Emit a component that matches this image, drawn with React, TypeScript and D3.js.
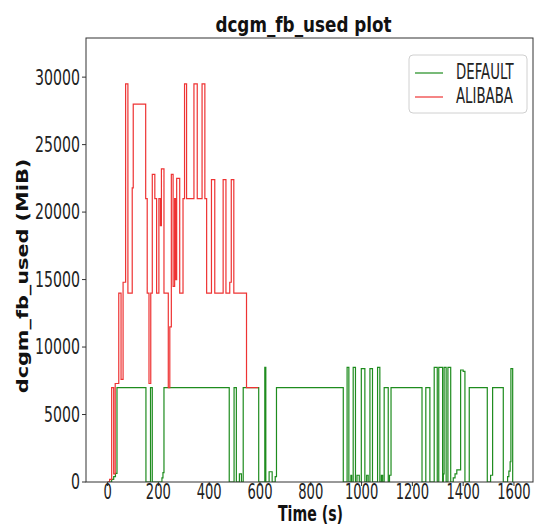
import React from "react";
import * as d3 from "d3";

// [time (s), dcgm_fb_used (MiB)], step-wise
const defaultSeries: [number, number][] = [
  [0, 0], [16, 200], [24, 400], [31, 640], [37, 7000], [151, 0], [169, 7000], [176, 0],
  [214, 300], [218, 700], [222, 7000], [479, 0], [498, 7000], [507, 0], [519, 600], [527, 0],
  [534, 7000], [595, 0], [619, 8500], [623, 0], [636, 760], [648, 0], [660, 400], [665, 7000],
  [928, 0], [943, 8500], [950, 0], [958, 500], [961, 0], [967, 8500], [976, 0], [982, 500],
  [991, 0], [999, 8400], [1013, 0], [1020, 500], [1026, 0], [1033, 8400], [1043, 0],
  [1063, 8500], [1072, 0], [1078, 500], [1083, 0], [1089, 7000], [1105, 0], [1110, 500],
  [1116, 7000], [1238, 0], [1253, 7000], [1269, 0], [1286, 8500], [1298, 0], [1304, 8500],
  [1319, 0], [1322, 600], [1325, 8500], [1333, 0], [1340, 8500], [1351, 0], [1361, 300],
  [1368, 600], [1375, 900], [1390, 8300], [1400, 8200], [1407, 0], [1424, 7000], [1495, 0],
  [1508, 500], [1516, 7000], [1558, 0], [1575, 400], [1580, 800], [1585, 1500], [1588, 8400],
  [1595, 0], [1597, 0],
];

const alibabaSeries: [number, number][] = [
  [0, 0], [8, 200], [16, 7000], [24, 600], [30, 7300], [44, 14000], [53, 7600], [61, 14800],
  [71, 29500], [80, 14000], [97, 21800], [101, 28000], [150, 21000], [156, 14000], [163, 7300],
  [170, 14000], [176, 22800], [186, 21000], [193, 14000], [202, 21000], [208, 19000],
  [212, 23200], [222, 14000], [239, 7000], [245, 11500], [251, 22800], [258, 14500],
  [264, 21000], [268, 15000], [272, 22500], [284, 14000], [297, 21000], [303, 29500],
  [311, 21000], [340, 29500], [353, 21000], [372, 29500], [383, 21000], [390, 14000],
  [409, 22400], [422, 14000], [455, 22400], [466, 14000], [481, 14800], [487, 22400],
  [497, 14000], [547, 7000], [593, 7000],
];

const xTicks = [0, 200, 400, 600, 800, 1000, 1200, 1400, 1600];
const yTicks = [0, 5000, 10000, 15000, 20000, 25000, 30000];
const seriesNames = ["DEFAULT", "ALIBABA"];
const seriesColors = ["#1e8c1e", "#ee3333"];

const FONT = "DejaVu Sans, Liberation Sans, sans-serif";

export default function App() {
  const width = 535;
  const height = 527;
  const left = 86, right = 533, top = 38, bottom = 482;

  const x = d3.scaleLinear().domain([-85, 1675]).range([left, right]);
  const y = d3.scaleLinear().domain([0, 32900]).range([bottom, top]);

  const line = d3
    .line<[number, number]>()
    .x((d) => x(d[0]))
    .y((d) => y(d[1]))
    .curve(d3.curveStepAfter);

  const series = [defaultSeries, alibabaSeries];

  return (
    <svg
      width={width}
      height={height}
      style={{ position: "absolute", left: 0, top: 0, background: "#fff" }}
      fontFamily={FONT}
    >
      <defs>
        <clipPath id="plotArea">
          <rect x={left} y={top} width={right - left} height={bottom - top} />
        </clipPath>
      </defs>

      <text
        transform={`translate(303.5,31.5) scale(0.82,1)`}
        textAnchor="middle"
        fontSize={20.5}
        fontWeight="bold"
        fill="#111"
      >
        dcgm_fb_used plot
      </text>

      <g clipPath="url(#plotArea)">
        {series.map((s, i) => (
          <path
            key={seriesNames[i]}
            d={line(s) || ""}
            fill="none"
            stroke={seriesColors[i]}
            strokeWidth={1.2}
          />
        ))}
      </g>

      <rect
        x={left}
        y={top}
        width={right - left}
        height={bottom - top}
        fill="none"
        stroke="#333"
        strokeWidth={1}
      />

      {/* x axis */}
      {xTicks.map((t) => (
        <g key={"x" + t}>
          <line x1={x(t)} x2={x(t)} y1={bottom} y2={bottom + 4} stroke="#333" />
          <text
            transform={`translate(${x(t)},499) scale(0.64,1)`}
            textAnchor="middle"
            fontSize={20.5}
            fill="#222"
          >
            {t}
          </text>
        </g>
      ))}
      <text
        transform={`translate(310.5,520.5) scale(0.69,1)`}
        textAnchor="middle"
        fontSize={20.5}
        fontWeight="bold"
        fill="#111"
      >
        Time (s)
      </text>

      {/* y axis */}
      {yTicks.map((t) => (
        <g key={"y" + t}>
          <line x1={left - 4} x2={left} y1={y(t)} y2={y(t)} stroke="#333" />
          <text
            transform={`translate(80,${y(t)}) scale(0.69,1)`}
            textAnchor="end"
            dy="0.36em"
            fontSize={20.5}
            fill="#222"
          >
            {t}
          </text>
        </g>
      ))}
      <text
        transform={`translate(28.4,276) rotate(-90) scale(1,0.72)`}
        textAnchor="middle"
        fontSize={20.8}
        fontWeight="bold"
        fill="#111"
      >
        dcgm_fb_used (MiB)
      </text>

      {/* legend */}
      <rect
        x={409}
        y={55}
        width={118}
        height={58}
        rx={4}
        fill="#fff"
        fillOpacity={0.8}
        stroke="#d0d0d0"
      />
      {seriesNames.map((name, i) => (
        <g key={name}>
          <line
            x1={415}
            x2={443}
            y1={73 + i * 24}
            y2={73 + i * 24}
            stroke={seriesColors[i]}
            strokeWidth={1.2}
          />
          <text
            transform={`translate(456,${79.3 + i * 24}) scale(0.65,1)`}
            fontSize={20.5}
            fill="#222"
          >
            {name}
          </text>
        </g>
      ))}
    </svg>
  );
}
